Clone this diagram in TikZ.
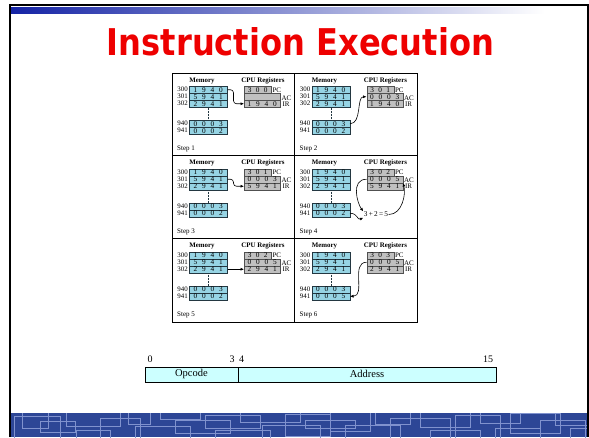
\documentclass[tikz,border=0pt]{standalone}
\usepackage{fontspec}
\setmainfont{Liberation Serif}
\newfontfamily\titlefont{DejaVu Sans}
\usetikzlibrary{arrows.meta,calc}

\definecolor{memfill}{RGB}{150,212,228}
\definecolor{memdraw}{RGB}{35,55,65}
\definecolor{regfill}{RGB}{192,192,192}
\definecolor{regdraw}{RGB}{80,80,80}
\definecolor{fmtfill}{RGB}{204,255,255}
\definecolor{titlered}{RGB}{238,0,0}
\definecolor{bandblue}{RGB}{45,70,150}
\definecolor{bandline}{RGB}{128,146,206}
\definecolor{barblue}{RGB}{20,35,165}

\newcommand\digq[4]{\makebox[8.5pt]{#1}\makebox[8.5pt]{#2}\makebox[8.5pt]{#3}\makebox[8.5pt]{#4}}
\newcommand\digt[3]{\makebox[8pt]{#1}\makebox[8pt]{#2}\makebox[8pt]{#3}}

\tikzset{
  memrow/.style={draw=memdraw, fill=memfill, line width=0.5pt, minimum width=38pt,
    minimum height=7pt, inner sep=0pt, anchor=north west, font=\fontsize{7.3}{7.3}\selectfont},
  regrow/.style={draw=regdraw, fill=regfill, line width=0.5pt, minimum width=36pt,
    minimum height=7pt, inner sep=0pt, anchor=north west, font=\fontsize{7.3}{7.3}\selectfont},
  pcrow/.style={regrow, minimum width=27pt},
  addr/.style={anchor=east, inner sep=0.5pt, font=\fontsize{6.9}{6.9}\selectfont},
  hdr/.style={font=\bfseries\fontsize{6.9}{6.9}\selectfont, inner sep=0pt},
  reglbl/.style={anchor=west, inner sep=0.8pt, font=\fontsize{7}{7}\selectfont},
  steplbl/.style={anchor=west, inner sep=0pt, font=\fontsize{7}{7}\selectfont},
  flow/.style={line width=0.6pt, -{Latex[length=3.5pt,width=3pt]}},
  fmtbox/.style={draw=black, fill=fmtfill, line width=0.7pt, anchor=north west,
    minimum height=15pt, inner sep=0pt, font=\fontsize{10.5}{10.5}\selectfont},
  bitnum/.style={inner sep=0pt, font=\fontsize{10}{10}\selectfont},
  gridline/.style={line width=0.8pt, draw=black}
}

% #1 id, #2 X, #3 Y, #4 PC, #5 AC, #6 IR, #7 941 value, #8 step
\newcommand\stepcell[8]{%
\begin{scope}[shift={(#2,#3)}]
  \node[hdr] (#1mh) at (30,7.5) {Memory};
  \node[hdr] (#1ch) at (91,7.5) {CPU Registers};
  \node[memrow] (#1m300) at (17,13) {\digq1940};
  \node[memrow] (#1m301) at (17,20) {\digq5941};
  \node[memrow] (#1m302) at (17,27) {\digq2941};
  \node[memrow] (#1m940) at (17,47) {\digq0003};
  \node[memrow] (#1m941) at (17,54) {#7};
  \node[addr] (#1a300) at (16.5,16.5) {300};
  \node[addr] (#1a301) at (16.5,23.5) {301};
  \node[addr] (#1a302) at (16.5,30.5) {302};
  \node[addr] (#1a940) at (16.5,50.5) {940};
  \node[addr] (#1a941) at (16.5,57.5) {941};
  \draw[memdraw, densely dotted, line width=0.5pt] (#1m302.south) -- (#1m940.north);
  \node[pcrow] (#1pc) at (72,13) {#4};
  \node[regrow] (#1ac) at (72,20) {#5};
  \node[regrow] (#1ir) at (72,27) {#6};
  \node[reglbl] (#1pcl) at (#1pc.east) {PC};
  \node[reglbl] (#1acl) at ($(#1ac.east)+(0,1)$) {AC};
  \node[reglbl] (#1irl) at ($(#1ir.east)+(1,0)$) {IR};
  \node[steplbl] (#1st) at (5,76) {Step #8};
\end{scope}}

\begin{document}
\begin{tikzpicture}[x=1pt,y=-1pt]
\useasboundingbox (0,0) rectangle (589,437);
\fill[white] (0,0) rectangle (589,437);

% top gradient bar
\shade[left color=barblue, right color=white] (11,7) rectangle (545,13);

% bottom patterned band
\begin{scope}
  \clip (11,413) rectangle (589,437);
  \fill[bandblue] (11,413) rectangle (589,437);
  \foreach \a/\b/\c/\d in {14/416/60/445, 22/405/48/428, 40/421/75/432, 66/410/120/426,
    76/430/110/450, 100/418/140/440, 128/412/150/424, 135/426/190/445, 160/405/200/419,
    175/420/230/433, 205/415/260/428, 215/430/270/450, 240/405/300/422, 262/425/320/445,
    285/414/330/436, 305/420/355/428, 330/405/370/431, 345/425/400/445, 375/412/410/424,
    390/418/450/438, 420/405/470/427, 430/430/480/450, 455/415/500/440, 480/405/520/423,
    495/428/540/445, 510/413/560/433, 540/420/585/438, 555/405/589/425, 570/428/600/445}
    \draw[bandline, line width=1pt] (\a,\b) rectangle (\c,\d);
\end{scope}

% slide frame
\draw[black, line width=2pt] (10,437) -- (10,5) -- (588,5) -- (588,437);

% title
\node[inner sep=0pt, anchor=south, text=titlered] (title) at (300.5,56)
  {\resizebox{387pt}{28pt}{\titlefont\bfseries Instruction Execution}};

% figure grid
\draw[gridline] (172,73) rectangle (417,322);
\draw[gridline] (294.5,73) -- (294.5,322);
\draw[gridline] (172,155.5) -- (417,155.5);
\draw[gridline] (172,238.5) -- (417,238.5);

\stepcell{s1}{172}{73}{\digt300}{}{\digq1940}{\digq0002}{1}
\stepcell{s2}{294.5}{73}{\digt301}{\digq0003}{\digq1940}{\digq0002}{2}
\stepcell{s3}{172}{155.5}{\digt301}{\digq0003}{\digq5941}{\digq0002}{3}
\stepcell{s4}{294.5}{155.5}{\digt302}{\digq0005}{\digq5941}{\digq0002}{4}
\stepcell{s5}{172}{238.5}{\digt302}{\digq0005}{\digq2941}{\digq0002}{5}
\stepcell{s6}{294.5}{238.5}{\digt303}{\digq0005}{\digq2941}{\digq0005}{6}

% step arrows
\draw[flow, rounded corners=3pt] (s1m300.east) -- ++(6,0) |- (s1ir.west);
\draw[flow] (s2m940.east) .. controls +(12,0) and +(-10,0) .. (s2ac.west);
\draw[flow, rounded corners=3pt] (s3m301.east) -- ++(6,0) |- (s3ir.west);

\node[inner sep=0.5pt, font=\fontsize{7.3}{7.3}\selectfont] (s4sum) at (376,214.5) {3\,+\,2\,=\,5};
\draw[flow] (s4ac.west) .. controls +(-16,0) and +(-6,-8) .. (s4sum.north west);
\draw[flow] (s4m941.east) .. controls +(8,0) and +(-6,3) .. (s4sum.south west);
\draw[flow] (s4sum.east) .. controls +(14,0) and +(3,10) .. (s4ac.south east);

\draw[flow] (s5m302.east) -- (s5ir.west);
\draw[flow] (s6ac.west) .. controls +(-16,0) and +(16,0) .. (s6m941.east);

% instruction format
\node[fmtbox, minimum width=93pt] (opc) at (144.5,366.5) {Opcode};
\node[fmtbox, minimum width=258.5pt] (adr) at (237.5,366.5) {Address};
\node[bitnum] (b0) at (150,359) {0};
\node[bitnum] (b3) at (232,359) {3};
\node[bitnum] (b4) at (241.5,359) {4};
\node[bitnum] (b15) at (488,359) {15};
\end{tikzpicture}
\end{document}
